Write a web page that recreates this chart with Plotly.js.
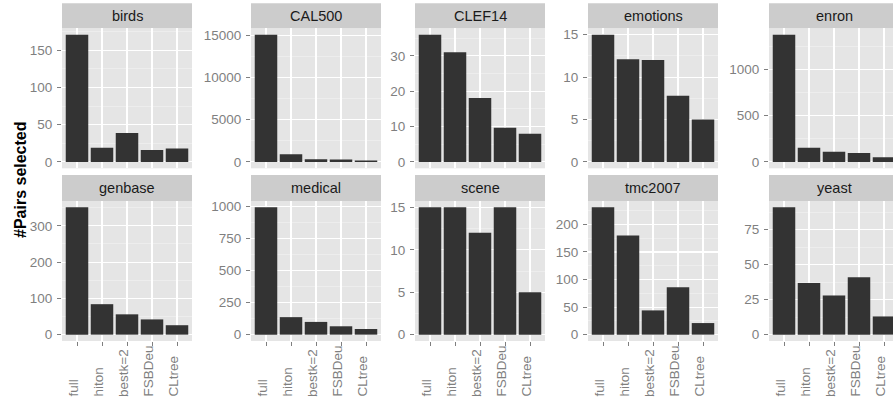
<!DOCTYPE html>
<html><head><meta charset="utf-8">
<script src="https://cdn.plot.ly/plotly-3.0.1.min.js"></script>
<style>html,body{margin:0;padding:0;background:#fff}</style>
</head><body><div id="chart" style="width:893px;height:412px"></div>
<script>
// ---- data ----
const methods = ['full', 'hiton', 'bestk=2', 'FSBDeu', 'CLtree'];
const datasets = ['birds', 'CAL500', 'CLEF14', 'emotions', 'enron', 'genbase', 'medical', 'scene', 'tmc2007', 'yeast'];
const birds    = [171, 19, 39, 16, 18];
const CAL500   = [15051, 900, 320, 300, 173];
const CLEF14   = [36, 31, 18.1, 9.7, 8];
const emotions = [15, 12.1, 12, 7.8, 5];
const enron    = [1378, 153, 109, 98, 52];
const genbase  = [351, 84, 56, 42, 26];
const medical  = [990, 136, 99, 65, 44];
const scene    = [15, 15, 12, 15, 5];
const tmc2007  = [231, 180, 44, 86, 21];
const yeast    = [91, 37, 28, 41, 13];
const yTickStep = [50, 5000, 10, 5, 500, 100, 250, 5, 50, 25];
const yTitle = '#Pairs selected';

const values = [birds, CAL500, CLEF14, emotions, enron, genbase, medical, scene, tmc2007, yeast];

// ---- layout geometry ----
const W = 893, H = 412;
const colX = [[62,192],[251,381],[415,545],[588,718],[769,899]];
const rows = [{strip:[3.3,28.3], panel:[28.3,168.3]}, {strip:[175,201], panel:[201,341]}];
const FONT = 'Liberation Sans, Arial, sans-serif';
const GREY = '#7F7F7F';

const traces = [];
const layout = {
  width: W, height: H,
  margin: {l:0, r:0, t:0, b:0},
  paper_bgcolor: '#FFFFFF',
  plot_bgcolor: '#E5E5E5',
  showlegend: false,
  bargap: 0.1,
  font: {family: FONT, size: 12, color: GREY},
  shapes: [],
  annotations: []
};

datasets.forEach((name, i) => {
  const r = Math.floor(i / 5), c = i % 5;
  const s = i === 0 ? '' : String(i + 1);
  const x0 = colX[c][0], x1 = Math.min(colX[c][1], W);
  const pxPerCat = (colX[c][1] - colX[c][0]) / 5.2;
  const vals = values[i];
  const vmax = Math.max(...vals);
  const row = rows[r];

  traces.push({
    type: 'bar', x: methods, y: vals,
    xaxis: 'x' + s, yaxis: 'y' + s,
    marker: {color: '#333333', line: {width: 0}},
    hoverinfo: 'x+y'
  });

  layout['xaxis' + s] = {
    domain: [x0 / W, x1 / W],
    anchor: 'y' + s,
    type: 'category',
    categoryorder: 'array', categoryarray: methods,
    range: [-0.6, -0.6 + (x1 - x0) / pxPerCat],
    showgrid: true, gridcolor: '#FFFFFF', gridwidth: 1.1,
    zeroline: false, showline: false,
    showticklabels: false,
    ticks: r === 1 ? 'outside' : '', ticklen: 4, tickwidth: 1, tickcolor: GREY,
    fixedrange: true
  };
  const st = yTickStep[i];
  layout['yaxis' + s] = {
    domain: [1 - row.panel[1] / H, 1 - row.panel[0] / H],
    anchor: 'x' + s,
    range: [-0.05 * vmax, 1.05 * vmax],
    tick0: 0, dtick: st, tickformat: 'd',
    showgrid: true, gridcolor: '#FFFFFF', gridwidth: 1.1,
    minor: {tick0: 0, dtick: st / 2, showgrid: true, gridcolor: '#F2F2F2', gridwidth: 0.6, ticks: ''},
    zeroline: false, showline: false,
    ticks: 'outside', ticklen: 4, tickwidth: 1, tickcolor: GREY,
    tickfont: {family: FONT, size: 13.5, color: GREY},
    ticklabelstandoff: 2,
    fixedrange: true
  };

  // strip
  layout.shapes.push({
    type: 'rect', xref: 'paper', yref: 'paper', layer: 'below',
    x0: x0 / W, x1: x1 / W,
    y0: 1 - row.strip[1] / H, y1: 1 - row.strip[0] / H,
    fillcolor: '#CCCCCC', line: {width: 0}
  });
  layout.annotations.push({
    xref: 'paper', yref: 'paper',
    x: ((colX[c][0] + colX[c][1]) / 2) / W,
    y: 1 - ((row.strip[0] + row.strip[1]) / 2) / H,
    text: name, showarrow: false,
    xanchor: 'center', yanchor: 'middle',
    font: {family: FONT, size: 14.5, color: '#1A1A1A'}
  });

  // rotated x tick labels on bottom row
  if (r === 1) {
    methods.forEach(m => {
      layout.annotations.push({
        xref: 'x' + s, yref: 'paper',
        x: m, y: (H - 399) / H,
        text: m, textangle: -90, showarrow: false,
        xanchor: 'center', yanchor: 'bottom', xshift: -4,
        font: {family: FONT, size: 13.5, color: GREY}
      });
    });
  }
});

layout.annotations.push({
  xref: 'paper', yref: 'paper',
  x: 20 / W, y: 1 - 180 / H,
  text: '<b>' + yTitle + '</b>', textangle: -90, showarrow: false,
  xanchor: 'center', yanchor: 'middle',
  font: {family: FONT, size: 16, color: '#000000'}
});

Plotly.newPlot('chart', traces, layout, {staticPlot: true, displayModeBar: false});
</script></body></html>
